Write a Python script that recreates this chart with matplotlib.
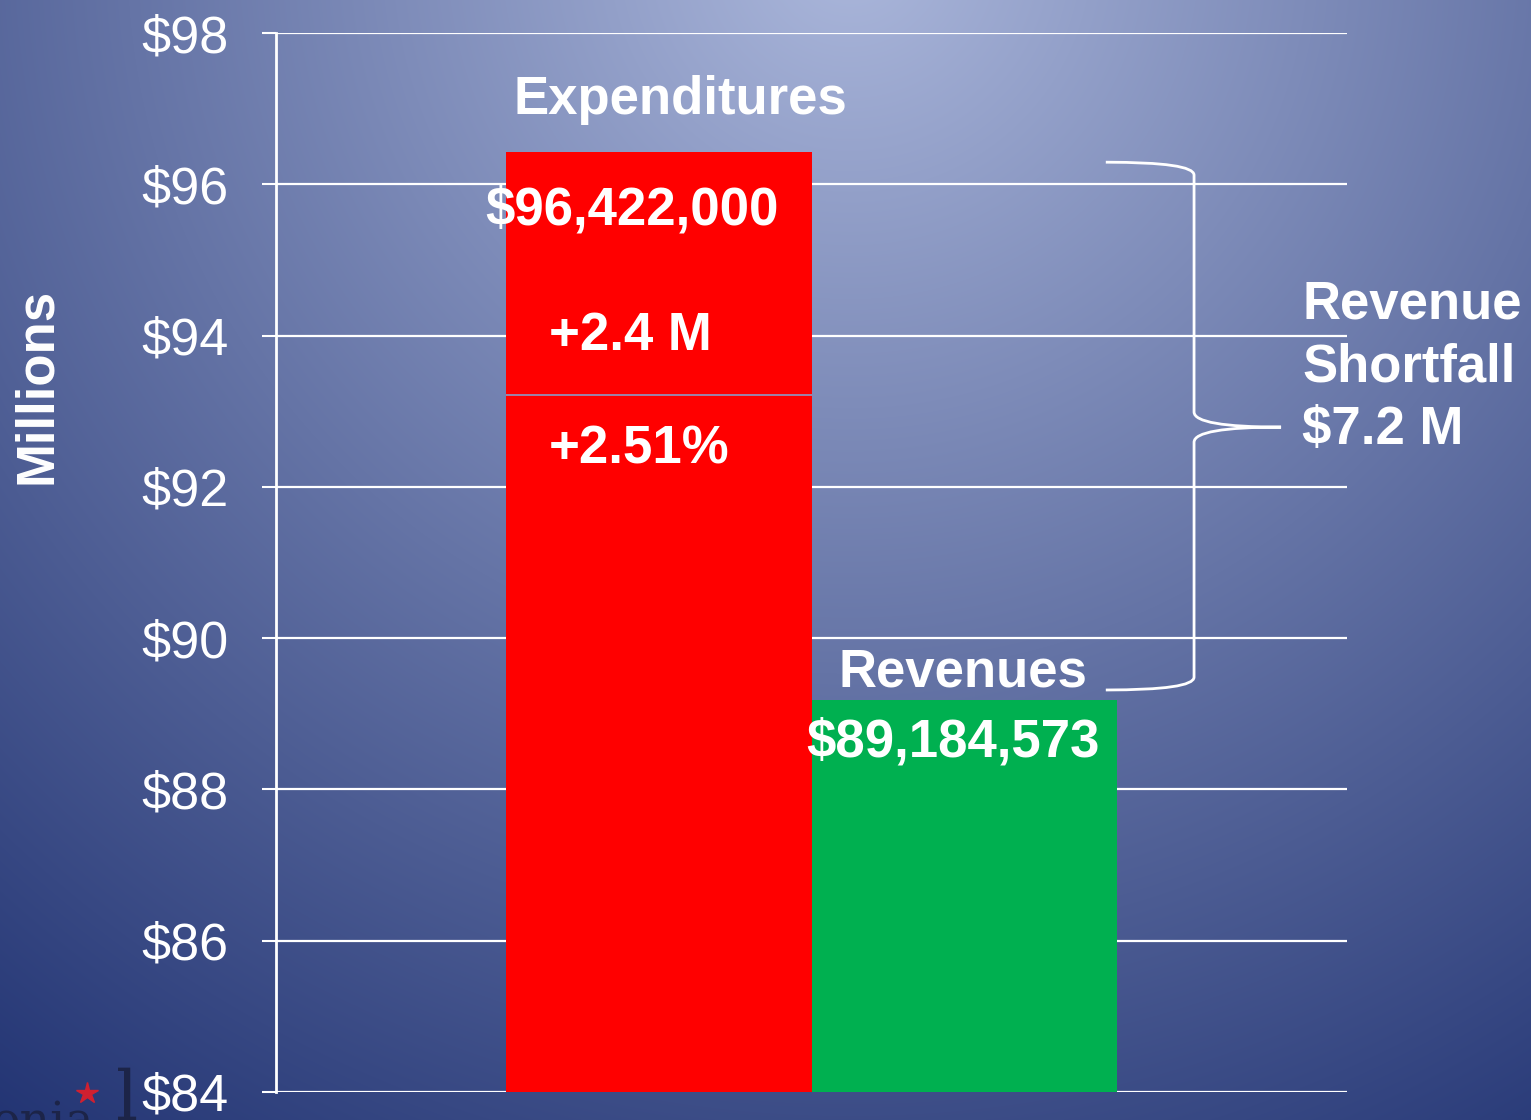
import numpy as np
import matplotlib
matplotlib.use("Agg")
import matplotlib.pyplot as plt
from matplotlib.path import Path
from matplotlib.patches import PathPatch

# ---- data ----
categories = ["Expenditures", "Revenues"]
values = [96.422, 89.184573]          # millions of dollars
value_labels = ["$96,422,000", "$89,184,573"]
split_level = 93.21                    # divider drawn inside expenditure bar
increase_labels = ["+2.4 M", "+2.51%"]
shortfall_label = "Revenue\nShortfall\n$7.2 M"
y_ticks = [84, 86, 88, 90, 92, 94, 96, 98]
y_ticklabels = ["$84", "$86", "$88", "$90", "$92", "$94", "$96", "$98"]
bar_colors = ["#FF0000", "#00B050"]

plt.rcParams['font.family'] = ['Liberation Sans', 'DejaVu Sans']

W, H = 1531, 1120
fig = plt.figure(figsize=(W / 100, H / 100), dpi=100)

# ---- background radial gradient ----
bg = fig.add_axes([0, 0, 1, 1], zorder=-10)
yy, xx = np.mgrid[0:H, 0:W]
d = np.sqrt((xx - 850) ** 2 + (yy + 50) ** 2) / 1500.0
d = np.clip(d, 0, 1)
c0 = np.array([172, 184, 220]) / 255.0
c1 = np.array([30, 48, 112]) / 255.0
t = d[..., None] ** 0.95
img = c0 * (1 - t) + c1 * t
bg.imshow(img, aspect='auto', extent=[0, W, H, 0])
bg.set_xlim(0, W)
bg.set_ylim(H, 0)
bg.axis('off')
# partial logo at bottom-left (cut off by the edge, as in the original slide)
bg.text(-8, 1135, "onia", family="DejaVu Serif", fontsize=34, color="#1c2448",
        ha="left", va="baseline")
bg.text(116, 1120, "l", family="DejaVu Serif", fontsize=50, color="#1c2448",
        ha="left", va="baseline")
bg.plot([87], [1093], marker="*", color="#d02030", markersize=16)

# ---- main axes ----
ax = fig.add_axes([276 / W, 1 - 1092 / H, (1347 - 276) / W, (1092 - 33) / H])
ax.patch.set_alpha(0)
ax.set_ylim(84, 98)
ax.set_xlim(-1.254, 2.254)

x = np.arange(len(categories))
ax.bar(x, [v - 84 for v in values], bottom=84, width=1.0, color=bar_colors, zorder=3)
ax.hlines(split_level, -0.5, 0.5, colors="#8c9ac8", linewidth=1.2, zorder=4)

for yt in y_ticks:
    ax.axhline(yt, color="white", linewidth=1.6, zorder=1)

ax.set_yticks(y_ticks)
ax.set_yticklabels(y_ticklabels)
ax.tick_params(axis='y', colors='white', labelcolor='white', labelsize=37.5,
               length=10, width=1.5, pad=24)
ax.set_xticks([])
for s in ["top", "right", "bottom"]:
    ax.spines[s].set_visible(False)
ax.spines["left"].set_color("white")
ax.spines["left"].set_linewidth(2)

fig.text(37 / W, 1 - 386 / H, "Millions", rotation=90, color="white",
         fontsize=38, fontweight="bold", ha="center", va="center")

bold = dict(color="white", fontweight="bold", zorder=6)
ax.text(0.071, 97.12, categories[0], ha="center", va="center", fontsize=38, **bold)
ax.text(-0.087, 95.66, value_labels[0], ha="center", va="center", fontsize=38, **bold)
ax.text(-0.359, 93.99, increase_labels[0], ha="left", va="center", fontsize=38, **bold)
ax.text(-0.359, 92.49, increase_labels[1], ha="left", va="center", fontsize=38, **bold)
ax.text(0.995, 89.55, categories[1], ha="center", va="center", fontsize=38, **bold)
ax.text(0.962, 88.62, value_labels[1], ha="center", va="center", fontsize=38, **bold)
ax.text(2.107, 93.58, shortfall_label, ha="left", va="center", fontsize=38,
        linespacing=1.32, clip_on=False, **bold)

# ---- brace ----
top = values[0] - 0.13
bot = values[1] + 0.13
mid = 92.79
xe, xv, xt = 1.464, 1.753, 2.038
verts = [(xe, top), (xv, top), (xv, top - 0.17),
         (xv, mid + 0.2),
         (xv, mid), (xt, mid),
         (xv, mid), (xv, mid - 0.2),
         (xv, bot + 0.17),
         (xv, bot), (xe, bot)]
codes = [Path.MOVETO, Path.CURVE3, Path.CURVE3,
         Path.LINETO,
         Path.CURVE3, Path.CURVE3,
         Path.CURVE3, Path.CURVE3,
         Path.LINETO,
         Path.CURVE3, Path.CURVE3]
ax.add_patch(PathPatch(Path(verts, codes), facecolor="none", edgecolor="white",
                       linewidth=2, zorder=5, clip_on=False))

fig.savefig("out.png", dpi=100)
